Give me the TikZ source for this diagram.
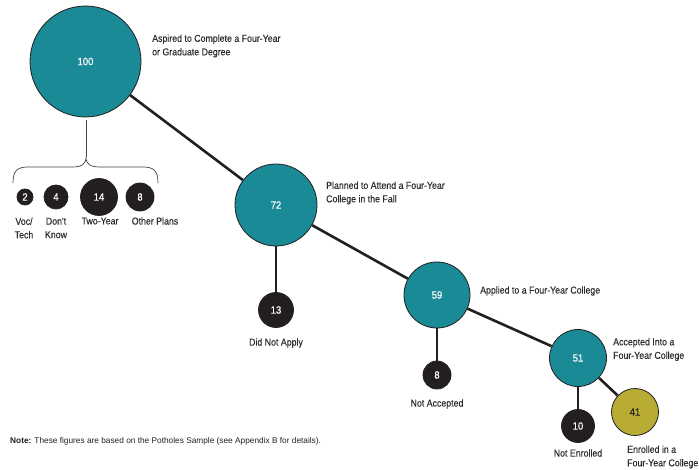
\documentclass[tikz,border=0pt]{standalone}
\usepackage{fontspec}
\setmainfont{Liberation Sans}
\newfontfamily\cond[FakeStretch=0.88,FakeBold=0.25,Ligatures=TeXOff]{Liberation Sans}
\newfontfamily\condnum[FakeStretch=0.9,FakeBold=0.6]{Liberation Sans}
\definecolor{tealc}{RGB}{26,138,150}
\definecolor{olivec}{RGB}{184,172,52}
\definecolor{darkc}{RGB}{35,31,32}
\definecolor{txtc}{RGB}{45,45,45}
\begin{document}
\begin{tikzpicture}[x=1pt,y=-1pt,
  bubble/.style={circle, draw=darkc, line width=0.8pt, inner sep=0pt, text=white,
    font=\condnum\fontsize{10.5}{11}\selectfont},
  tealbub/.style={bubble, fill=tealc},
  olivebub/.style={bubble, fill=olivec, text=darkc},
  darkbub/.style={bubble, fill=darkc},
  lbl/.style={inner sep=0pt, text=txtc, align=left, font=\cond\fontsize{10}{13.5}\selectfont},
  clbl/.style={lbl, align=center},
  mainline/.style={draw=darkc, line width=2.6pt},
  subline/.style={draw=darkc, line width=1.8pt},
  braceline/.style={draw=darkc!85, line width=0.7pt}
]
\useasboundingbox (0,0) rectangle (699,470);

% main bubbles
\node[tealbub, minimum size=111pt] (c100) at (85.5,61.5) {100};
\node[tealbub, minimum size=82pt] (c72) at (276,205) {72};
\node[tealbub, minimum size=66pt] (c59) at (437,295) {59};
\node[tealbub, minimum size=57pt] (c51) at (578,358) {51};
\node[olivebub, minimum size=47pt] (c41) at (635,412) {41};

% side bubbles
\node[darkbub, minimum size=35pt] (c13) at (276,310) {13};
\node[darkbub, minimum size=28pt] (c8b) at (437,375) {8};
\node[darkbub, minimum size=33pt] (c10) at (578,426) {10};

% other-plans bubbles
\node[darkbub, minimum size=16pt] (c2) at (25,197) {2};
\node[darkbub, minimum size=24pt] (c4) at (56,197) {4};
\node[darkbub, minimum size=37pt] (c14) at (99,197) {14};
\node[darkbub, minimum size=28pt] (c8a) at (140,197) {8};

% connectors
\draw[mainline] (c100) -- (c72);
\draw[mainline] (c72) -- (c59);
\draw[mainline] (c59) -- (c51);
\draw[mainline] (c51) -- (c41);
\draw[subline] (c72) -- (c13);
\draw[subline] (c59) -- (c8b);
\draw[subline] (c51) -- (c10);

% brace
\coordinate (btop) at (86,120);
\coordinate (btip) at (86,157);
\draw[braceline] (btop) -- (btip);
\draw[braceline] (13,183) .. controls (13,171) and (17,167) .. (28,167) -- (72,167)
  .. controls (82,167) and (86,164) .. (btip)
  .. controls (86,164) and (90,167) .. (100,167) -- (143,167)
  .. controls (154,167) and (158,171) .. (158,183);

% labels
\node[lbl, anchor=west] (l100) at (152,46) {Aspired to Complete a Four-Year\\or Graduate Degree};
\node[lbl, anchor=west] (l72) at (326,193) {Planned to Attend a Four-Year\\College in the Fall};
\node[lbl, anchor=west] (l59) at (480,291) {Applied to a Four-Year College};
\node[lbl, anchor=west] (l51) at (613,349.5) {Accepted Into a\\Four-Year College};
\node[lbl, anchor=west] (l41) at (627,457) {Enrolled in a\\Four-Year College};
\node[clbl] (l13) at (276,343) {Did Not Apply};
\node[clbl] (l8b) at (437,404) {Not Accepted};
\node[clbl] (l10) at (578,453) {Not Enrolled};
\node[clbl] (l2) at (24,228) {Voc/\\Tech};
\node[clbl] (l4) at (56,228) {Don't\\Know};
\node[clbl] (l14) at (100,221) {Two-Year};
\node[clbl] (l8a) at (155,221) {Other Plans};

% note
\node[inner sep=0pt, anchor=west, text=darkc, font=\fontsize{8.3}{9}\selectfont] (note) at (10,441)
  {\textbf{Note:} These figures are based on the Potholes Sample (see Appendix B for details).};
\end{tikzpicture}
\end{document}
